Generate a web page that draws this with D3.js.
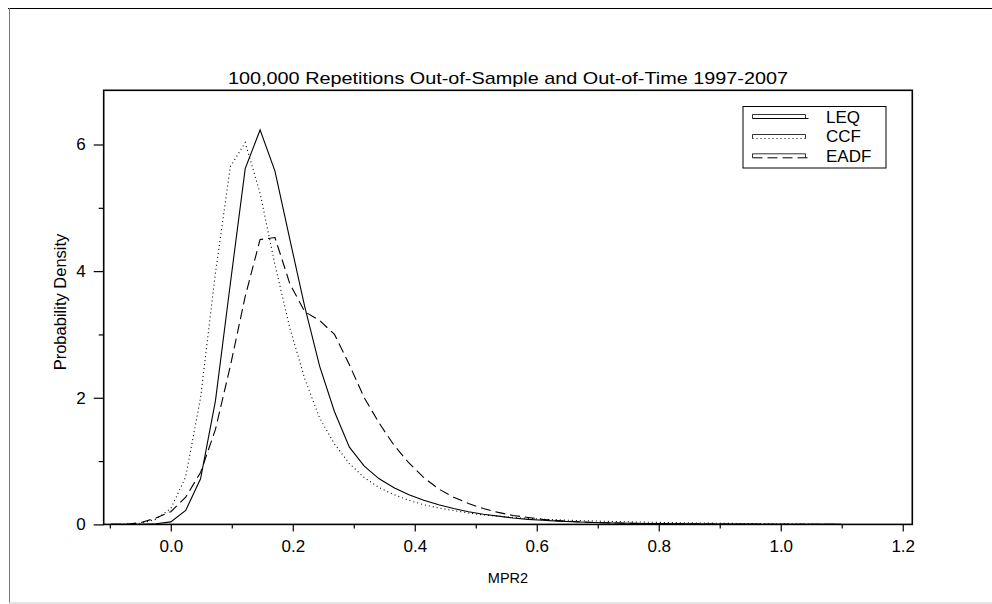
<!DOCTYPE html>
<html><head><meta charset="utf-8">
<script src="https://cdn.jsdelivr.net/npm/d3@7"></script>
<style>body{margin:0;background:#fff}svg{display:block}text{font-family:"Liberation Sans",Arial,sans-serif;fill:#000}</style>
</head><body>
<svg id="c" width="992" height="604"></svg>
<script>
const xGrid = [-0.0976,-0.0732,-0.0488,-0.0244,0,0.0244,0.0488,0.0732,0.0976,0.122,0.1464,0.1708,0.1952,0.2196,0.244,0.2684,0.2928,0.3172,0.3416,0.366,0.3904,0.4148,0.4392,0.4636,0.488,0.5124,0.5368,0.5612,0.5856,0.61,0.6344,0.6588,0.6832,0.7076,0.732,0.7564,0.7808,0.8052,0.8296,0.854,0.8784,0.9028,0.9272,0.9516,0.976,1.0004,1.0248,1.0492,1.0736,1.098];
const leq  = [0,0,0,0.01,0.04,0.22,0.72,1.95,3.8,5.62,6.23,5.58,4.5,3.44,2.5,1.78,1.22,0.92,0.72,0.58,0.47,0.38,0.31,0.25,0.2,0.16,0.13,0.1,0.08,0.065,0.052,0.042,0.034,0.027,0.022,0.018,0.015,0.012,0.01,0.008,0.007,0.006,0.005,0.004,0.003,0.003,0.002,0.001,0.001,0];
const ccf  = [0,0.005,0.02,0.08,0.25,0.75,2.0,3.97,5.65,6.03,5.23,4.1,3.1,2.3,1.68,1.27,0.96,0.74,0.58,0.47,0.38,0.31,0.26,0.22,0.18,0.15,0.13,0.11,0.095,0.082,0.072,0.064,0.057,0.05,0.045,0.04,0.035,0.031,0.027,0.024,0.021,0.018,0.015,0.013,0.011,0.009,0.007,0.004,0.002,0];
const eadf = [0,0,0.03,0.1,0.2,0.43,0.82,1.5,2.5,3.6,4.5,4.53,3.8,3.36,3.22,3.0,2.52,2.0,1.6,1.25,0.97,0.74,0.56,0.43,0.33,0.25,0.19,0.14,0.11,0.08,0.06,0.045,0.035,0.027,0.021,0.016,0.012,0.01,0.008,0.006,0.005,0.004,0.003,0.003,0.002,0.002,0.001,0.001,0,0];
const seriesNames = ["LEQ","CCF","EADF"];
const xMajorTicks = [0,0.2,0.4,0.6,0.8,1.0,1.2];
const xMinorTicks = [-0.1,0.1,0.3,0.5,0.7,0.9,1.1];
const yMajorTicks = [0,2,4,6];
const yMinorTicks = [1,3,5];
const title = "100,000 Repetitions Out-of-Sample and Out-of-Time 1997-2007";
const xTitle = "MPR2", yTitle = "Probability Density";

const svg = d3.select("#c");
const L=103.7, R=912.3, T=90.3, B=524.4;
const x = d3.scaleLinear().domain([-0.11, 1.2157]).range([L,R]);
const y = d3.scaleLinear().domain([0, 6.856]).range([B,T]);

// outer border
svg.append("line").attr("x1",8).attr("x2",992).attr("y1",8.5).attr("y2",8.5).attr("stroke","#000").attr("stroke-width",1);
svg.append("line").attr("x1",9.5).attr("x2",9.5).attr("y1",8).attr("y2",604).attr("stroke","#777").attr("stroke-width",1);
svg.append("line").attr("x1",9).attr("x2",992).attr("y1",603).attr("y2",603).attr("stroke","#ddd").attr("stroke-width",1.5);

// curves
const styles = [{d:null},{d:"1,3"},{d:"10,5"}];
const data = [leq, ccf, eadf];
const line = d3.line().x((d,i)=>x(xGrid[i])).y(d=>y(d));
data.forEach((s,k)=>{
  svg.append("path").datum(s).attr("d",line).attr("fill","none").attr("stroke","#000")
    .attr("stroke-width",1.1).attr("stroke-dasharray",styles[k].d);
});

// frame
svg.append("rect").attr("x",L).attr("y",T).attr("width",R-L).attr("height",B-T)
  .attr("fill","none").attr("stroke","#000").attr("stroke-width",1.6);

// x axis ticks
const xAxisMaj = d3.axisBottom(x).tickValues(xMajorTicks).tickSize(7).tickPadding(9).tickFormat(d3.format(".1f"));
svg.append("g").attr("class","xmaj").attr("transform",`translate(0,${B})`).call(xAxisMaj);
const xAxisMin = d3.axisBottom(x).tickValues(xMinorTicks).tickSize(4).tickFormat("");
svg.append("g").attr("transform",`translate(0,${B})`).call(xAxisMin);
// y axis
const yAxisMaj = d3.axisLeft(y).tickValues(yMajorTicks).tickSize(10).tickPadding(8).tickFormat(d3.format("d"));
svg.append("g").attr("transform",`translate(${L},0)`).call(yAxisMaj);
const yAxisMin = d3.axisLeft(y).tickValues(yMinorTicks).tickSize(5).tickFormat("");
svg.append("g").attr("transform",`translate(${L},0)`).call(yAxisMin);
svg.selectAll(".domain").remove();
svg.selectAll(".tick line").attr("stroke","#000").attr("stroke-width",1.2);
svg.selectAll(".tick text").style("font-size","17px").style("font-family","'Liberation Sans',Arial,sans-serif");

// titles
svg.append("text").attr("x",(L+R)/2+0).attr("y",84).attr("text-anchor","middle").style("font-size","17px")
  .attr("textLength",560).attr("lengthAdjust","spacingAndGlyphs").text(title);
svg.append("text").attr("x",(L+R)/2).attr("y",583).attr("text-anchor","middle").style("font-size","14.5px").text(xTitle);
svg.append("text").attr("transform","translate(66,302) rotate(-90)").attr("text-anchor","middle").style("font-size","16.5px").text(yTitle);

// legend
svg.append("rect").attr("x",743).attr("y",106.5).attr("width",143).attr("height",61.5).attr("fill","#fff").attr("stroke","#000").attr("stroke-width",1);
const legY=[114.5,134.5,153.8], legTY=[122.7,141.7,162.3];
seriesNames.forEach((n,k)=>{
  const g = svg.append("g");
  const x0=752.5, x1=805.5, yy=legY[k];
  g.append("path").attr("d",`M${x0},${yy+4}V${yy}H${x1}V${yy+4}`).attr("fill","none").attr("stroke","#000").attr("stroke-width",0.8);
  g.append("line").attr("x1",x0).attr("x2",x1+3).attr("y1",yy+4).attr("y2",yy+4).attr("stroke","#000").attr("stroke-width",1).attr("stroke-dasharray",styles[k].d);
  g.append("text").attr("x",826).attr("y",legTY[k]).style("font-size","17px").text(n);
});
</script>
</body></html>
